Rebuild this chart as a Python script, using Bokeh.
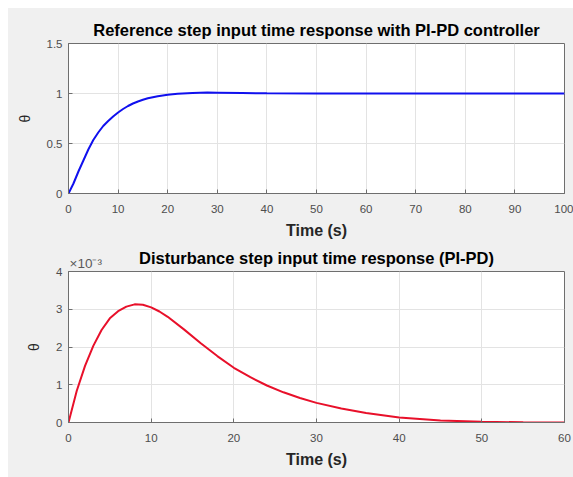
from bokeh.plotting import figure
from bokeh.layouts import column, row
from bokeh.models import Range1d, FixedTicker, Spacer, Title
from bokeh.embed import file_html
from bokeh.resources import INLINE

# Reference step response
t_ref = [0, 1, 2, 3, 4, 5, 6, 7, 8, 9, 10, 11, 12, 13, 14, 15, 16, 18, 20, 22, 25, 28, 30, 35, 40, 50, 60, 70, 80, 90, 100]
y_ref = [0, 0.1, 0.22, 0.33, 0.44, 0.535, 0.61, 0.675, 0.725, 0.77, 0.81, 0.845, 0.875, 0.9, 0.92, 0.937, 0.952, 0.973, 0.988, 0.998, 1.006, 1.009, 1.008, 1.005, 1.002, 1.0, 1.0, 1.0, 1.0, 1.0, 1.0]

# Disturbance step response (units of 1e-3)
t_dist = [0, 1, 2, 3, 4, 5, 6, 7, 8, 9, 10, 11, 12, 14, 16, 18, 20, 22, 24, 26, 28, 30, 33, 36, 40, 45, 50, 55, 60]
y_dist = [0, 0.84, 1.5, 2.03, 2.45, 2.76, 2.95, 3.07, 3.13, 3.12, 3.05, 2.94, 2.8, 2.46, 2.1, 1.76, 1.45, 1.2, 0.98, 0.8, 0.65, 0.52, 0.37, 0.25, 0.13, 0.05, 0.02, 0.005, 0.0]

ref_xticks = [0, 10, 20, 30, 40, 50, 60, 70, 80, 90, 100]
ref_yticks = [0, 0.5, 1, 1.5]
dist_xticks = [0, 10, 20, 30, 40, 50, 60]
dist_yticks = [0, 1, 2, 3, 4]

FONT = "Liberation Sans"
BG = "#f0f0f0"
TICKC = "#4d4d4d"
EDGE = "#6e6e6e"


def style(p, xticks, yticks):
    p.border_fill_color = BG
    p.background_fill_color = "white"
    p.outline_line_color = EDGE
    p.outline_line_width = 1
    p.xaxis.ticker = FixedTicker(ticks=xticks)
    p.yaxis.ticker = FixedTicker(ticks=yticks)
    for ax in p.xaxis + p.yaxis:
        ax.major_tick_in = 4
        ax.major_tick_out = 0
        ax.minor_tick_line_color = None
        ax.axis_line_color = EDGE
        ax.major_tick_line_color = EDGE
        ax.major_label_text_font = FONT
        ax.major_label_text_font_size = "11.5px"
        ax.major_label_text_color = TICKC
        ax.axis_label_text_font = FONT
        ax.axis_label_text_color = "#262626"
    p.xaxis.major_label_standoff = 11
    p.yaxis.major_label_standoff = 6
    p.xaxis.axis_label_standoff = 6
    p.xaxis.axis_label_text_font_size = "16px"
    p.xaxis.axis_label_text_font_style = "bold"
    p.yaxis.axis_label_text_font_size = "14px"
    p.yaxis.axis_label_text_font_style = "normal"
    p.yaxis.axis_label_standoff = 11
    p.grid.grid_line_color = "#e3e3e3"
    p.xgrid.ticker = FixedTicker(ticks=xticks)
    p.ygrid.ticker = FixedTicker(ticks=yticks)
    p.title.text_font = FONT
    p.title.text_font_size = "16.5px"
    p.title.text_font_style = "bold"
    p.title.text_color = "black"
    p.title.align = "center"


W = 565
p1 = figure(width=W, height=234, output_backend="svg", toolbar_location=None,
            x_range=Range1d(0, 100), y_range=Range1d(0, 1.5),
            title="Reference step input time response with PI-PD controller",
            x_axis_label="Time (s)", y_axis_label="θ",
            min_border_left=60, min_border_right=9, min_border_top=35, min_border_bottom=49)
style(p1, ref_xticks, ref_yticks)
p1.line(t_ref, y_ref, line_color="#1010ee", line_width=2)

p2 = figure(width=W, height=235, output_backend="svg", toolbar_location=None,
            x_range=Range1d(0, 60), y_range=Range1d(0, 4),
            title="Disturbance step input time response (PI-PD)",
            x_axis_label="Time (s)", y_axis_label="θ",
            min_border_left=60, min_border_right=9, min_border_top=29, min_border_bottom=55)
style(p2, dist_xticks, dist_yticks)
p2.title.standoff = -28
p2.add_layout(Title(text="×10⁻³", align="left", standoff=2, offset=1,
                    text_font=FONT, text_font_size="13.5px", text_font_style="normal",
                    text_color="#5a5a5a"), "above")
p2.line(t_dist, y_dist, line_color="#e8102a", line_width=2)

inner = column(p1, p2, spacing=0, styles={"background-color": BG})
layout = column(Spacer(height=8),
                row(Spacer(width=8), inner, spacing=0),
                spacing=0)
open("out.html", "w").write(file_html(layout, INLINE))
